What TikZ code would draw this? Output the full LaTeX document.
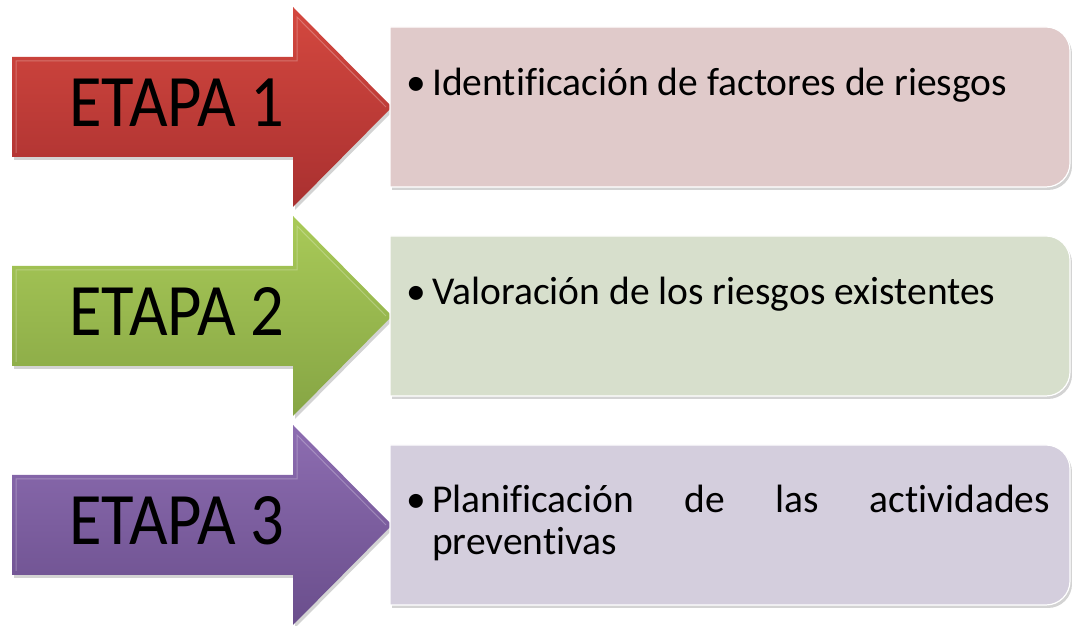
\documentclass[tikz,border=0pt]{standalone}
\usepackage{fontspec}
\setmainfont[Ligatures=NoCommon]{Carlito}
\usetikzlibrary{shadows}
\definecolor{redA}{HTML}{D4483F}
\definecolor{redB}{HTML}{A93030}
\definecolor{greenA}{HTML}{A9CA58}
\definecolor{greenB}{HTML}{86A544}
\definecolor{purpleA}{HTML}{8D6DB1}
\definecolor{purpleB}{HTML}{6A4E8C}
\definecolor{boxred}{HTML}{E0CACA}
\definecolor{boxgreen}{HTML}{D7DFCC}
\definecolor{boxpurple}{HTML}{D4CEDD}
\tikzset{
  arrowshape/.style={drop shadow={opacity=0.35,shadow xshift=2pt,shadow yshift=-3pt}},
  boxshape/.style={draw=white,line width=1.2pt,drop shadow={opacity=0.35,shadow xshift=2pt,shadow yshift=-3pt}},
  etapa/.style={inner sep=0pt,anchor=base,font=\fontsize{74}{80}\selectfont},
  bul/.style={inner sep=0pt,anchor=base west,font=\fontsize{39.5}{42}\selectfont},
  bultext/.style={inner sep=0pt,anchor=base west,font=\fontsize{39.5}{42}\selectfont,text width=618pt,align=left}
}
\begin{document}
\begin{tikzpicture}[x=1pt,y=1pt]
\useasboundingbox (0,0) rectangle (1072,626);
% arrows
\foreach \c/\ta/\tb/\n in {519/redA/redB/1,310/greenA/greenB/2,101/purpleA/purpleB/3}{
  \path[arrowshape,top color=\ta,bottom color=\tb]
    (12,\c-50) -- (12,\c+50) -- (293,\c+50) -- (293,\c+100) -- (392,\c) -- (293,\c-100) -- (293,\c-50) -- cycle;
  \draw[white,opacity=0.25,line width=1pt] (16,\c-46) -- (16,\c+46) -- (297,\c+46) -- (297,\c+90) -- (386,\c) ;
  \node[etapa] (etapa\n) at (177,\c-20) {\scalebox{0.9}[1]{ETAPA \n}};
}
% boxes
\foreach \c/\col/\n in {519/boxred/1,310/boxgreen/2,101/boxpurple/3}{
  \path[boxshape,fill=\col]
    (390,\c-80) -- (390,\c+80) -- (1046,\c+80) arc[start angle=90,end angle=0,radius=24] -- (1070,\c-56) arc[start angle=0,end angle=-90,radius=24] -- cycle;
}
\node[bul] (b1) at (406,530) {•};
\node[bul] (t1) at (432,530) {Identificación de factores de riesgos};
\node[bul] (b2) at (406,321) {•};
\node[bul] (t2) at (432,321) {Valoración de los riesgos existentes};
\node[bul] (b3) at (406,113) {•};
\node[bultext] (t3) at (432,113) {Planificación\hfill de\hfill las\hfill actividades\\preventivas};
\end{tikzpicture}
\end{document}
